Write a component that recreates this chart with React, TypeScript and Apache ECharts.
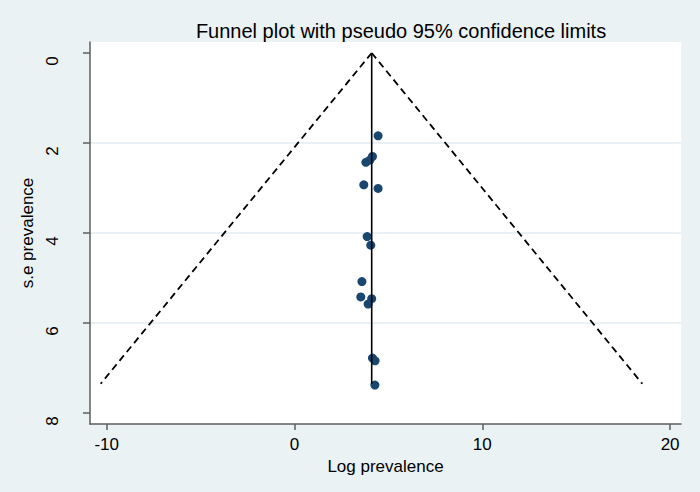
import { useEffect, useRef } from "react";
import * as echarts from "echarts";

const titleText = "Funnel plot with pseudo 95% confidence limits";
const xAxisName = "Log prevalence";
const yAxisName = "s.e prevalence";
const xTicks = [-10, 0, 10, 20];
const yTicks = [0, 2, 4, 6, 8];

// study estimates
const logPrevalence = [4.45, 4.15, 3.8, 4.01, 3.69, 4.45, 3.87, 4.06, 3.59, 3.53, 4.11, 3.92, 4.15, 4.29, 4.28];
const sePrevalence = [1.84, 2.3, 2.43, 2.38, 2.93, 3.01, 4.08, 4.27, 5.08, 5.42, 5.46, 5.58, 6.78, 6.84, 7.38];

// pooled estimate line and pseudo 95% limits (endpoints)
const pooledX = [4.11, 4.11];
const pooledSe = [0, 7.35];
const lowerLimitX = [4.11, -10.32];
const upperLimitX = [4.11, 18.52];
const limitSe = [0, 7.35];

const xRange = [-10.89, 20.58];
const yRange = [-0.244, 8.244];

const FONT = '"Liberation Sans", Arial, Helvetica, sans-serif';
const AXIS_COLOR = "#5e5e5e";

export default function App() {
  const ref = useRef<HTMLDivElement>(null);

  useEffect(() => {
    if (!ref.current) return;
    const chart = echarts.init(ref.current, null, { renderer: "svg" });
    const pairs = (xs: number[], ys: number[]) => xs.map((x, i) => [x, ys[i]]);

    chart.setOption({
      animation: false,
      backgroundColor: "#eaf2f3",
      textStyle: { fontFamily: FONT },
      title: {
        text: titleText,
        left: 401,
        top: 21,
        textAlign: "center",
        padding: 0,
        textStyle: { fontSize: 20, fontWeight: "normal", color: "#000", fontFamily: FONT },
      },
      grid: {
        left: 90,
        right: 19,
        top: 42,
        bottom: 68,
        show: true,
        backgroundColor: "#ffffff",
        borderWidth: 0,
      },
      xAxis: {
        type: "value",
        min: xRange[0],
        max: xRange[1],
        minInterval: 10,
        maxInterval: 10,
        name: xAxisName,
        nameLocation: "middle",
        nameGap: 28,
        nameTextStyle: { fontSize: 17, color: "#000", fontFamily: FONT },
        axisLine: { show: true, onZero: false, lineStyle: { color: AXIS_COLOR, width: 1.5 } },
        axisTick: { show: true, length: 6, customValues: xTicks, lineStyle: { color: AXIS_COLOR, width: 1.5 } },
        axisLabel: { customValues: xTicks, fontSize: 17, color: "#000", margin: 12, fontFamily: FONT },
        splitLine: { show: false },
      },
      yAxis: {
        type: "value",
        inverse: true,
        min: yRange[0],
        max: yRange[1],
        minInterval: 2,
        maxInterval: 2,
        name: yAxisName,
        nameLocation: "middle",
        nameGap: 52,
        nameTextStyle: { fontSize: 17, color: "#000", fontFamily: FONT },
        axisLine: { show: true, onZero: false, lineStyle: { color: AXIS_COLOR, width: 1.5 } },
        axisTick: { show: true, length: 7, customValues: yTicks, lineStyle: { color: AXIS_COLOR, width: 1.5 } },
        axisLabel: {
          customValues: yTicks,
          rotate: 90,
          fontSize: 17,
          color: "#000",
          margin: 29,
          padding: [0, 16, 0, 0],
          fontFamily: FONT,
        },
        splitLine: {
          show: true,
          showMinLine: false,
          showMaxLine: false,
          lineStyle: { color: "#e3edf0", width: 1.5 },
        },
      },
      series: [
        {
          type: "scatter",
          data: pairs(logPrevalence, sePrevalence),
          symbol: "circle",
          symbolSize: 9,
          itemStyle: { color: "#1a476f", opacity: 1 },
          z: 2,
        },
        {
          type: "line",
          data: pairs(pooledX, pooledSe),
          showSymbol: false,
          symbol: "none",
          lineStyle: { color: "#000", width: 1.6, type: "solid" },
          z: 3,
        },
        {
          type: "line",
          data: pairs(lowerLimitX, limitSe),
          showSymbol: false,
          symbol: "none",
          lineStyle: { color: "#000", width: 1.8, type: [7, 4.5] },
          z: 3,
        },
        {
          type: "line",
          data: pairs(upperLimitX, limitSe),
          showSymbol: false,
          symbol: "none",
          lineStyle: { color: "#000", width: 1.8, type: [7, 4.5] },
          z: 3,
        },
      ],
    });

    return () => chart.dispose();
  }, []);

  return (
    <div
      ref={ref}
      style={{ position: "absolute", left: 0, top: 0, width: 700, height: 492 }}
    />
  );
}
